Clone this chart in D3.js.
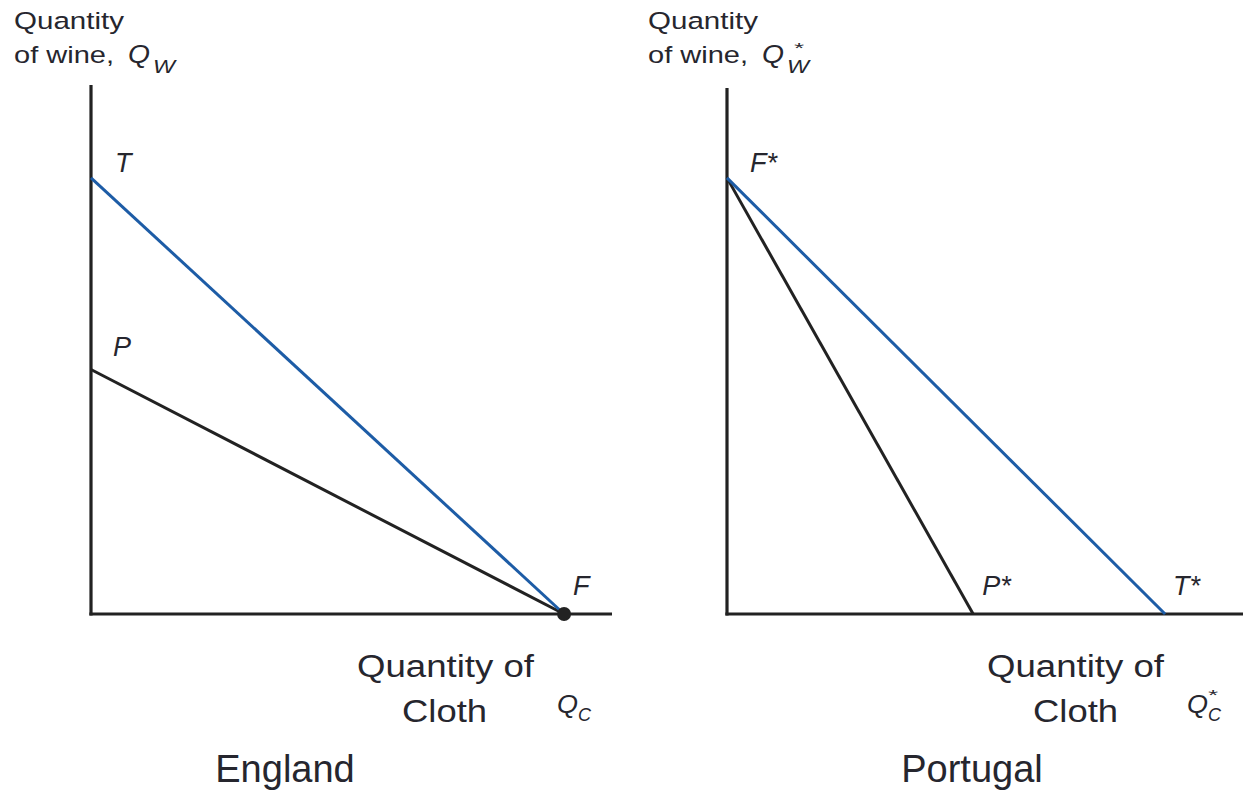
<!DOCTYPE html>
<html><head><meta charset="utf-8">
<script src="https://cdn.jsdelivr.net/npm/d3@7"></script>
<style>body{margin:0;background:#fff;} svg{display:block;} text{font-family:"Liberation Sans",Arial,sans-serif;fill:#26262e;}</style>
</head><body><svg id="c" width="1244" height="793"></svg>
<script>
// Data (abstract units, axes span 0..100)
const countries = ["England", "Portugal"];
const wineSub = ["W", "W"];
const clothSub = ["C", "C"];
const starred = [false, true];
// production possibility frontier: [wine intercept, cloth intercept]
const ppfWine = [46.3, 82.6];
const ppfCloth = [90.8, 47.7];
// trade line: [wine intercept, cloth intercept]
const tradeWine = [82.6, 82.6];
const tradeCloth = [90.8, 84.9];
const ppfNames = ["P", "P*"];
const tradeNames = ["T", "T*"];
const prodNames = ["F", "F*"];

const svg = d3.select("#c");
const panels = [
  {x0: 91, x1: 612, yTop: 85, title: 14, xLab: 357, cloth: 402, q: 557, name: 285},
  {x0: 727, x1: 1243, yTop: 88, title: 648, xLab: 987, cloth: 1033, q: 1187, name: 972}
];
const yBase = 614;
const blue = "#1d5ca6", ink = "#222";

function txt(g, x, y, size, s, len, italic) {
  const t = g.append("text").attr("x", x).attr("y", y).attr("font-size", size).text(s);
  if (len) t.attr("textLength", len).attr("lengthAdjust", "spacingAndGlyphs");
  if (italic) t.attr("font-style", "italic");
  return t;
}

panels.forEach((p, i) => {
  const x = d3.scaleLinear().domain([0, 100]).range([p.x0, p.x1]);
  const y = d3.scaleLinear().domain([0, 100]).range([yBase, 86]);
  const g = svg.append("g");
  // axes
  g.append("line").attr("x1", x(0)).attr("x2", x(0)).attr("y1", yBase + 1.5).attr("y2", p.yTop)
    .attr("stroke", ink).attr("stroke-width", 3.2);
  g.append("line").attr("x1", x(0) - 1.6).attr("x2", x(100)).attr("y1", yBase).attr("y2", yBase)
    .attr("stroke", ink).attr("stroke-width", 3.2);
  // PPF
  g.append("line").attr("x1", x(0)).attr("y1", y(ppfWine[i])).attr("x2", x(ppfCloth[i])).attr("y2", y(0))
    .attr("stroke", ink).attr("stroke-width", 3);
  // trade line
  g.append("line").attr("x1", x(0)).attr("y1", y(tradeWine[i])).attr("x2", x(tradeCloth[i])).attr("y2", y(0))
    .attr("stroke", blue).attr("stroke-width", 3);

  const lab = (tx, ty, s) => txt(g, tx, ty, 27, s, null, true);
  if (i === 0) {
    lab(x(0) + 24, y(tradeWine[i]) - 6, tradeNames[i]);
    lab(x(0) + 22, y(ppfWine[i]) - 14, ppfNames[i]);
    lab(x(ppfCloth[i]) + 9, yBase - 19, prodNames[i]);
    g.append("circle").attr("cx", x(ppfCloth[i])).attr("cy", y(0)).attr("r", 7).attr("fill", ink);
  } else {
    lab(x(0) + 23, y(tradeWine[i]) - 6, prodNames[i]);
    lab(x(ppfCloth[i]) + 9, yBase - 19, ppfNames[i]);
    lab(x(tradeCloth[i]) + 8, yBase - 19, tradeNames[i]);
  }

  // y-axis title
  txt(g, p.title, 29, 24.5, "Quantity", 110);
  txt(g, p.title, 63, 24.5, "of wine,", 100);
  txt(g, p.title + 114, 63, 26, "Q", 22, true);
  txt(g, p.title + 139, 73, 19, wineSub[i], 22, true);
  if (starred[i]) txt(g, p.title + 145, 53, 14, "*", 10, true);

  // x-axis title
  txt(g, p.xLab, 677, 31, "Quantity of", 177);
  txt(g, p.cloth, 722, 31, "Cloth", 85);
  txt(g, p.q, 713, 26, "Q", 21, true);
  txt(g, p.q + 21, 721, 19, clothSub[i], 13, true);
  if (starred[i]) txt(g, p.q + 20, 700, 14, "*", 10, true);

  // country name
  txt(g, p.name, 782, 38, countries[i]).attr("text-anchor", "middle");
});
</script></body></html>
